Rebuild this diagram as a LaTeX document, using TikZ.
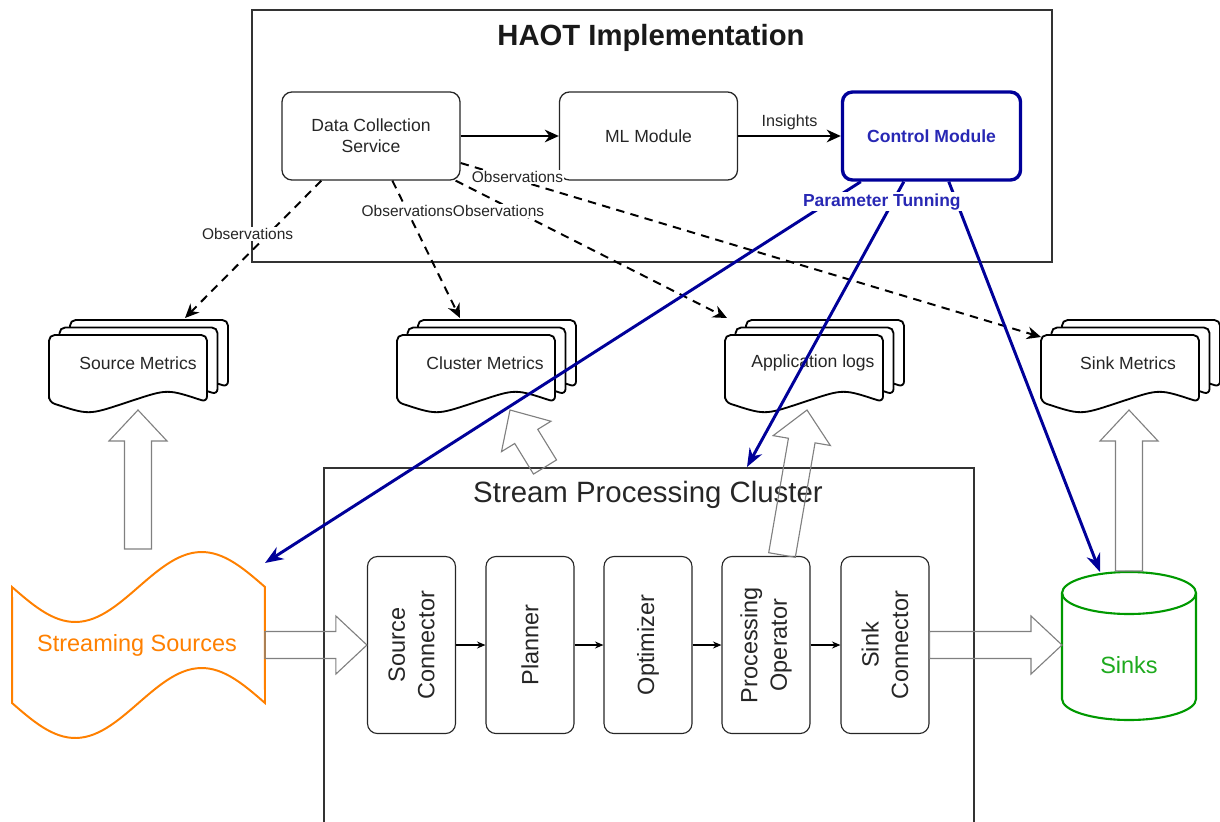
\documentclass[tikz,border=0pt]{standalone}
\usepackage{fontspec}
\setmainfont{Liberation Sans}
\usepackage{tikz}
\usetikzlibrary{calc,arrows.meta}
\definecolor{ctrlblue}{RGB}{0,0,153}
\definecolor{ctrltext}{RGB}{40,40,180}
\definecolor{srcorange}{RGB}{255,128,0}
\definecolor{sinkgreen}{RGB}{0,153,0}
\definecolor{sinktext}{RGB}{30,170,30}
\def\docsheet(#1,#2){\draw[sheet] (#1,#2+67) -- (#1,#2) -- (#1+158,#2) -- (#1+158,#2+67) .. controls (#1+118.5,#2+54) .. (#1+79,#2+67) .. controls (#1+39.5,#2+80) .. (#1,#2+67) -- cycle;}
\def\docstack(#1,#2){\docsheet(#1+21,#2-15)\docsheet(#1+10.5,#2-7.5)\docsheet(#1,#2)}
\def\blockarrow(#1)(#2){\coordinate (ba-h) at ($(#2)!0.775cm!(#1)$);
	\draw[blockarr] ($(#1)!0.3375cm!90:(#2)$) -- ($(ba-h)!0.3375cm!-90:(#1)$) -- ($(ba-h)!0.725cm!-90:(#1)$) -- (#2) -- ($(ba-h)!0.725cm!90:(#1)$) -- ($(ba-h)!0.3375cm!90:(#1)$) -- ($(#1)!0.3375cm!-90:(#2)$) -- cycle;}

\begin{document}
\begin{tikzpicture}[x=0.025cm,y=-0.025cm,
		haotbox/.style={draw=black!80, line width=1.4pt},
		modbox/.style={draw=black!85, line width=0.9pt, rounded corners=0.25cm, minimum width=4.45cm, minimum height=2.2cm, align=center, text=black!85, font=\fontsize{12.5}{15}\selectfont},
		ctrlbox/.style={modbox, draw=ctrlblue, line width=2.4pt, text=ctrltext, font=\bfseries\fontsize{12.5}{15}\selectfont},
		opbox/.style={draw=black!85, line width=0.8pt, rounded corners=0.25cm, rotate=90, minimum width=4.425cm, minimum height=2.2cm, align=center, text=black!85, font=\fontsize{16.7}{21}\selectfont},
		sheet/.style={draw=black, fill=white, line width=1.3pt, rounded corners=4pt},
		sheetlbl/.style={text=black!85, font=\fontsize{12.5}{15}\selectfont},
		flow/.style={line width=1.6pt, -{Stealth[length=10pt,width=9pt]}},
		opflow/.style={line width=0.8pt, -{Stealth[length=6pt,width=5pt]}},
		obsline/.style={line width=1.4pt, dash pattern=on 6pt off 4.5pt, -{Stealth[length=10pt,width=9pt]}},
		obslbl/.style={fill=white, inner sep=1pt, text=black!85, font=\fontsize{11}{13}\selectfont},
		ctrlline/.style={draw=ctrlblue, line width=2.1pt, -{Stealth[length=13pt,width=10pt]}},
		tunelbl/.style={fill=white, inner sep=1pt, text=ctrltext, font=\bfseries\fontsize{12.4}{15}\selectfont},
		blockarr/.style={draw=black!50, line width=0.8pt},
		srcshape/.style={draw=srcorange, line width=1.4pt},
		sinkshape/.style={draw=sinkgreen, line width=1.5pt}]
			%%%%% START %%%%%
			\useasboundingbox (0,0) rectangle (1220,821);
			
			% HAOT part
			\node[haotbox, minimum width=20cm, minimum height=6.3cm] (haot) at (652,136) {};
			\node[text=black!90, font=\bfseries\fontsize{20.8}{24}\selectfont] (haottitle) at (651,38) {HAOT Implementation};
			
			\node[modbox] (dcs) at (371,136) {Data Collection\\Service};
			\node[modbox] (ml) at (648.5,136) {ML Module};
			\node[ctrlbox] (ctrl) at (931.5,136) {Control Module};
			\draw[flow] (dcs) -- (ml);
			\draw[flow] (ml) -- node[above, text=black!85, font=\fontsize{11.5}{13}\selectfont] (insights) {Insights} (ctrl);
			
			% cluster
			\node[haotbox, anchor=north west, minimum width=16.25cm, minimum height=9.6cm] (spc) at (323,467) {};
			\node[text=black!85, font=\fontsize{20.9}{24}\selectfont] (spctitle) at (648,495) {Stream Processing Cluster};
			
			\node[opbox] (sc) at (411.5,645) {Source\\Connector};
			\node[opbox] (pl) at (530,645) {Planner};
			\node[opbox] (op) at (648,645) {Optimizer};
			\node[opbox] (po) at (766,645) {Processing\\Operator};
			\node[opbox] (sk) at (885,645) {Sink\\Connector};
			\draw[opflow] (sc) -- (pl);
			\draw[opflow] (pl) -- (op);
			\draw[opflow] (op) -- (po);
			\draw[opflow] (po) -- (sk);
			
			% metrics
			\docstack(49,335)
			\docstack(397,335)
			\docstack(725,335)
			\docstack(1041,335)
			\node[sheetlbl] (srcm) at (138,363) {Source Metrics};
			\node[sheetlbl] (clum) at (485,363) {Cluster Metrics};
			\node[sheetlbl] (appl) at (813,363) {Application logs};
			\node[sheetlbl] (sinkm) at (1128,363) {Sink Metrics};
			
			\coordinate (srcm-in) at (185,318);
			\coordinate (clum-in) at (460,318);
			\coordinate (appl-in) at (727,318);
			\coordinate (sinkm-in) at (1041,337);
			\coordinate (srcm-bot) at (138,410);
			\coordinate (clum-bot) at (510,410);
			\coordinate (appl-bot) at (807,410);
			\coordinate (sinkm-bot) at (1129,410);
			
			% sources and sinks
			\draw[srcshape] plot[domain=0:1, samples=60] ({12+253*\x},{587+35*sin(360*\x)}) -- plot[domain=1:0, samples=60] ({12+253*\x},{703+35*sin(360*\x)}) -- cycle;
			\node[text=srcorange, font=\fontsize{16.7}{20}\selectfont] (ss) at (137,645) {Streaming Sources};
			\coordinate (ss-up) at (138,549);
			\coordinate (ss-out) at (265,645);
			\coordinate (ss-in) at (265,563);
			
			\draw[sinkshape, fill=white] (1062,593) -- (1062,699) arc[start angle=180, end angle=0, x radius=67, y radius=21] -- (1196,593);
			\draw[sinkshape] (1129,593) ellipse [x radius=67, y radius=21];
			\node[text=sinktext, font=\fontsize{16.7}{20}\selectfont] (sinks) at (1129,665) {Sinks};
			\coordinate (sinks-up) at (1129,571);
			\coordinate (sinks-in) at (1062,645);
			\coordinate (sinks-ctl) at (1100,572);
			
			\coordinate (spc-up) at ($(spc.north west)+(222,0)$);
			\coordinate (po-up) at (782,555);
			
			% hollow arrows
			\blockarrow(ss-up)(srcm-bot)
			\blockarrow(spc-up)(clum-bot)
			\blockarrow(po-up)(appl-bot)
			\blockarrow(sinks-up)(sinkm-bot)
			\blockarrow(ss-out)(sc.north)
			\blockarrow(sk.south)(sinks-in)
			
			% observations
			\draw[obsline] ($(dcs.south west)+(40,0)$) -- node[obslbl, pos=0.39, xshift=-0.515cm] {Observations} (srcm-in);
			\draw[obsline] ($(dcs.east)+(0,27)$) -- node[obslbl, pos=0.08, xshift=0.26cm] {Observations} (sinkm-in);
			\draw[obsline] ($(dcs.south west)+(111,0)$) -- node[obslbl, pos=0.22] {Observations} (clum-in);
			\draw[obsline] ($(dcs.south east)+(-5,0)$) -- node[obslbl, pos=0.22, xshift=-0.42cm] {Observations} (appl-in);
			
			% tuning
			\draw[ctrlline] ($(ctrl.south west)+(20,0)$) -- (ss-in);
			\draw[ctrlline] ($(ctrl.south west)+(108,0)$) -- (sinks-ctl);
			\draw[ctrlline] ($(ctrl.south west)+(63,0)$) -- node[tunelbl, pos=0.07, xshift=-0.275cm] (tune) {Parameter Tunning} ($(spc.north west)+(424,0)$);
			
			%%%%% END %%%%%
\end{tikzpicture}
\end{document}
